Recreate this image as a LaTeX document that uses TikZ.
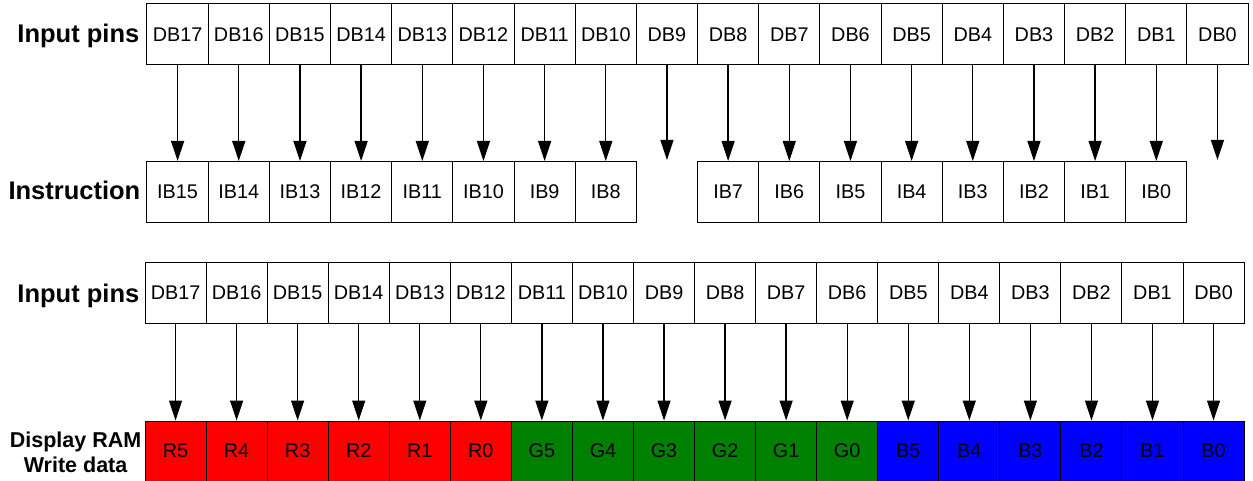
\documentclass[tikz,border=0pt]{standalone}
\usepackage{fontspec}
\setmainfont{Liberation Sans}
\usetikzlibrary{arrows.meta}

\definecolor{ramred}{RGB}{255,0,0}
\definecolor{ramgreen}{RGB}{0,128,0}
\definecolor{ramblue}{RGB}{0,0,255}

\tikzset{
  pinbox/.style={draw, line width=1pt, minimum width=61.2pt, minimum height=61pt,
    inner sep=0pt, font=\fontsize{19.8}{19.8}\selectfont},
  rowlabel/.style={anchor=base east, inner sep=0pt, font=\fontsize{25.5}{25.5}\selectfont\bfseries},
  bitarrow/.style={-{Triangle[length=20pt,width=13pt]}, line width=1.3pt}
}

\begin{document}
\begin{tikzpicture}[x=1pt,y=-1pt]
\useasboundingbox (0,0) rectangle (1253,481);

% input pins -> instruction
\begin{scope}
\foreach \n in {17,16,...,0}
  \node[pinbox] (db\n) at ({147+61.17*(17.5-\n)},34.5) {DB\n};
\foreach \n in {15,14,...,8}
  \node[pinbox] (ib\n) at ({147+61.17*(15.5-\n)},192) {IB\n};
\foreach \n in {7,6,...,0}
  \node[pinbox] (ib\n) at ({147+61.17*(16.5-\n)},192) {IB\n};

\foreach \n in {15,14,...,8}{
  \pgfmathtruncatemacro\d{\n+2}
  \draw[bitarrow] (db\d) -- (ib\n);
}
\foreach \n in {7,6,...,0}{
  \pgfmathtruncatemacro\d{\n+1}
  \draw[bitarrow] (db\d) -- (ib\n);
}
\coordinate (nc9) at (db9.south |- 0,160);
\coordinate (nc0) at (db0.south |- 0,160);
\draw[bitarrow] (db9) -- (nc9);
\draw[bitarrow] (db0) -- (nc0);

\node[rowlabel] (pinlbl) at ([xshift=-7pt,yshift=-8.5pt]db17.west) {Input pins};
\node[rowlabel] (inslbl) at ([xshift=-6pt,yshift=-8pt]ib15.west) {Instruction};
\end{scope}

% input pins -> display RAM
\begin{scope}
\foreach \n in {17,16,...,0}
  \node[pinbox, minimum width=61.06pt] (pin\n) at ({145+61.06*(17.5-\n)},292.5) {DB\n};
\foreach \c/\col [count=\k from 0] in {R/ramred, G/ramgreen, B/ramblue}
  \foreach \b in {5,4,...,0}{
    \pgfmathtruncatemacro\n{12-6*\k+\b}
    \node[pinbox, minimum width=61.06pt, minimum height=60pt, fill=\col]
      (ram\n) at ({145+61.06*(17.5-\n)},451) {\c\b};
  }
\foreach \n in {17,16,...,0}
  \draw[bitarrow] (pin\n) -- (ram\n);

\node[rowlabel] (pinlbl2) at ([xshift=-5pt,yshift=-10pt]pin17.west) {Input pins};
\node[anchor=east, inner sep=0pt, align=center, font=\fontsize{21.5}{25}\selectfont\bfseries]
  (ramlbl) at ([xshift=-3pt,yshift=-1pt]ram17.west) {Display RAM\\Write data};
\end{scope}
\end{tikzpicture}
\end{document}
